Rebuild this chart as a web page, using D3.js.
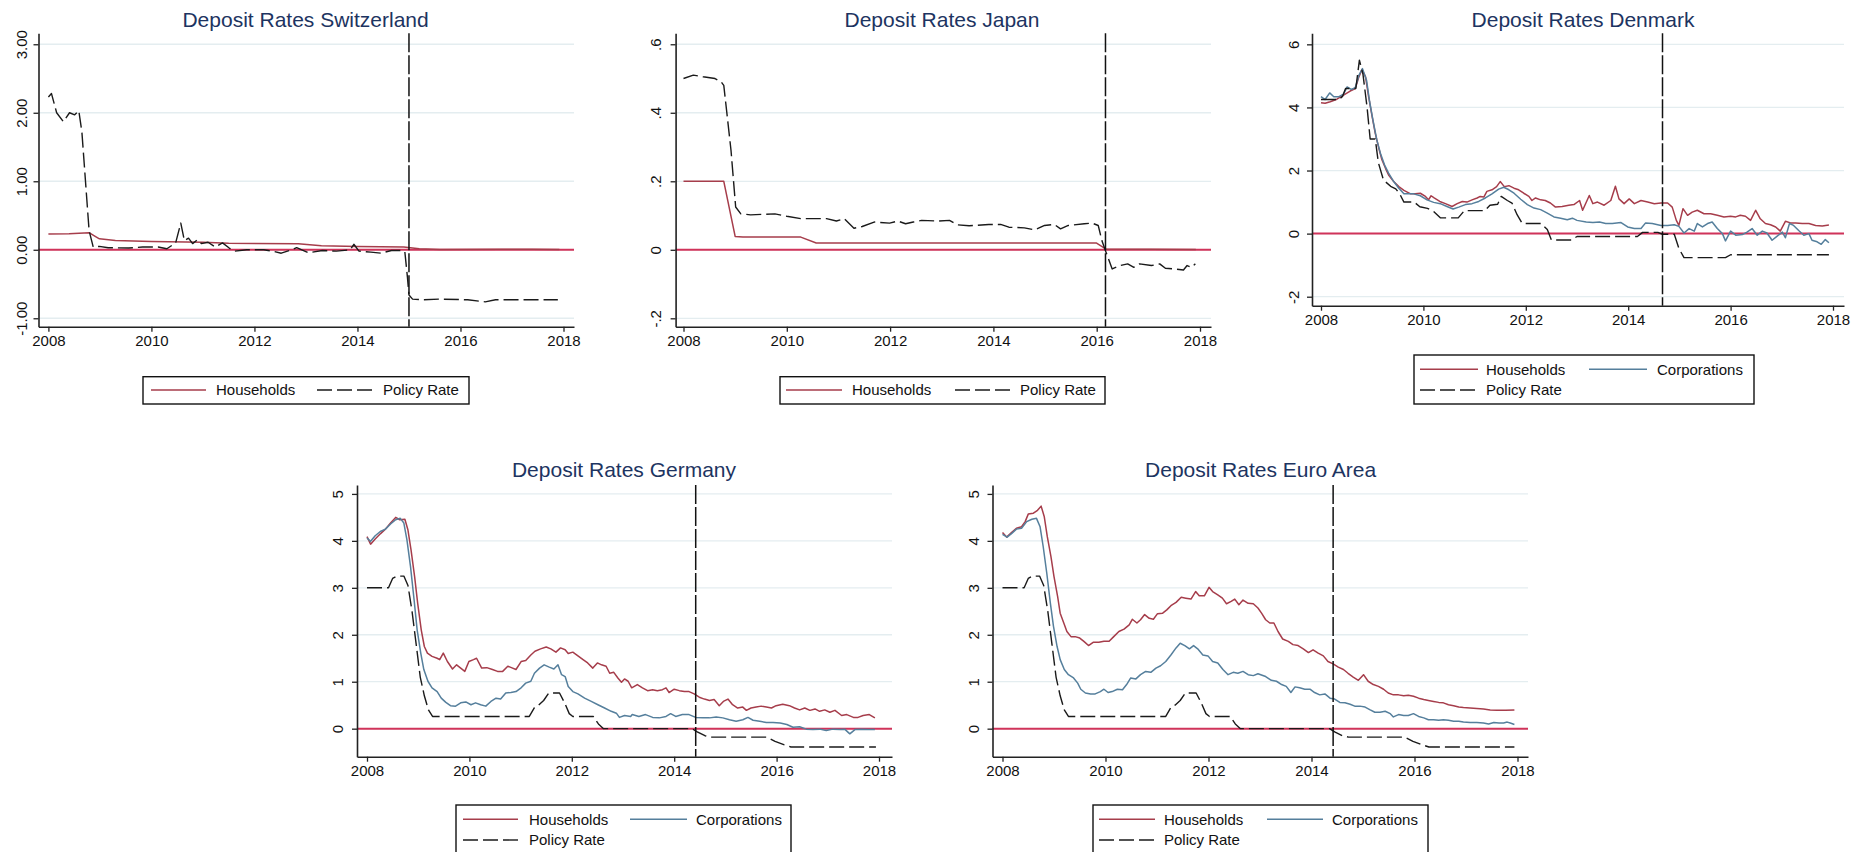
<!DOCTYPE html>
<html><head><meta charset="utf-8">
<script src="https://cdn.jsdelivr.net/npm/d3@7/dist/d3.min.js"></script>
<style>
body{margin:0;background:#fff;}
svg{display:block;font-family:"Liberation Sans",Arial,sans-serif;}
</style></head><body>
<svg id="c" width="1851" height="852"></svg>
<script>
// ---------------- DATA (decimal year, rate in %) ----------------
const yearTicks = [2008, 2010, 2012, 2014, 2016, 2018];

const chYTicks = [-1, 0, 1, 2, 3];
const chYLabels = ["-1.00", "0.00", "1.00", "2.00", "3.00"];
const jpYTicks = [-0.2, 0, 0.2, 0.4, 0.6];
const jpYLabels = ["-.2", "0", ".2", ".4", ".6"];
const dkYTicks = [-2, 0, 2, 4, 6];
const dkYLabels = ["-2", "0", "2", "4", "6"];
const euYTicks = [0, 1, 2, 3, 4, 5];
const euYLabels = ["0", "1", "2", "3", "4", "5"];

const chCutDate = 2015.0, jpCutDate = 2016.17, dkCutDate = 2014.67, deCutDate = 2014.42, eaCutDate = 2014.42;

const chHouseholds = [[2008.0,0.23],[2008.4,0.235],[2008.79,0.25],[2008.9,0.2],[2008.99,0.16],[2009.3,0.135],[2010.0,0.12],[2011.0,0.11],[2011.5,0.097],[2012.85,0.087],[2013.3,0.058],[2014.0,0.048],[2014.9,0.04],[2015.2,0.015],[2015.6,0.005],[2016.8,0.008],[2017.4,0.006],[2017.92,0.003]];
const chPolicy = [[2008.0,2.23],[2008.06,2.28],[2008.16,2.0],[2008.29,1.87],[2008.41,2.0],[2008.51,1.97],[2008.59,2.03],[2008.65,1.72],[2008.79,0.28],[2008.87,0.04],[2008.99,0.05],[2009.16,0.03],[2009.56,0.025],[2009.83,0.04],[2010.13,0.04],[2010.3,0.015],[2010.47,0.1],[2010.57,0.39],[2010.64,0.135],[2010.72,0.17],[2010.8,0.09],[2010.89,0.145],[2010.97,0.09],[2011.1,0.11],[2011.24,0.04],[2011.38,0.1],[2011.51,0.025],[2011.61,-0.02],[2011.85,0.0],[2012.18,0.0],[2012.35,-0.02],[2012.52,-0.05],[2012.72,0.0],[2012.82,0.03],[2013.05,-0.045],[2013.32,-0.01],[2013.59,-0.02],[2013.86,0.0],[2013.93,0.08],[2014.03,-0.02],[2014.26,-0.035],[2014.46,-0.05],[2014.66,-0.01],[2014.87,-0.01],[2014.92,-0.03],[2014.97,-0.4],[2015.0,-0.66],[2015.07,-0.72],[2015.27,-0.73],[2015.6,-0.72],[2016.14,-0.73],[2016.48,-0.76],[2016.68,-0.73],[2017.89,-0.73]];

const jpHouseholds = [[2008.0,0.2],[2008.78,0.2],[2009.0,0.039],[2009.15,0.037],[2010.27,0.037],[2010.57,0.02],[2015.99,0.02],[2016.18,0.002],[2017.92,0.001]];
const jpPolicy = [[2008.0,0.5],[2008.19,0.51],[2008.38,0.505],[2008.61,0.5],[2008.73,0.49],[2008.78,0.48],[2008.92,0.29],[2009.01,0.125],[2009.11,0.105],[2009.3,0.102],[2009.77,0.105],[2010.0,0.098],[2010.27,0.091],[2010.77,0.091],[2010.96,0.084],[2011.11,0.091],[2011.3,0.063],[2011.46,0.068],[2011.69,0.081],[2011.99,0.078],[2012.15,0.084],[2012.3,0.076],[2012.45,0.081],[2012.61,0.086],[2012.92,0.084],[2013.15,0.086],[2013.3,0.073],[2013.53,0.07],[2013.91,0.074],[2014.14,0.074],[2014.3,0.066],[2014.6,0.064],[2014.8,0.058],[2014.99,0.071],[2015.18,0.074],[2015.3,0.061],[2015.45,0.071],[2015.76,0.076],[2015.91,0.078],[2016.03,0.071],[2016.1,0.027],[2016.18,-0.007],[2016.3,-0.056],[2016.45,-0.046],[2016.6,-0.041],[2016.72,-0.051],[2016.83,-0.041],[2017.06,-0.046],[2017.22,-0.041],[2017.33,-0.054],[2017.52,-0.056],[2017.68,-0.059],[2017.75,-0.046],[2017.83,-0.051],[2017.91,-0.041]];

const dkHouseholds = [[2008.0,4.15],[2008.08,4.13],[2008.18,4.18],[2008.31,4.26],[2008.44,4.39],[2008.57,4.52],[2008.67,4.6],[2008.74,4.97],[2008.8,5.2],[2008.87,4.97],[2008.93,4.34],[2009.0,3.7],[2009.06,3.18],[2009.13,2.7],[2009.19,2.34],[2009.26,2.07],[2009.32,1.86],[2009.42,1.65],[2009.52,1.49],[2009.62,1.37],[2009.75,1.26],[2009.84,1.26],[2009.94,1.28],[2010.04,1.18],[2010.1,1.07],[2010.15,1.2],[2010.21,1.13],[2010.32,1.02],[2010.43,0.95],[2010.56,0.86],[2010.66,0.95],[2010.76,1.02],[2010.85,1.0],[2010.95,1.07],[2011.05,1.13],[2011.11,1.18],[2011.18,1.16],[2011.24,1.34],[2011.34,1.39],[2011.43,1.49],[2011.5,1.65],[2011.58,1.49],[2011.67,1.52],[2011.77,1.44],[2011.86,1.39],[2011.96,1.28],[2012.06,1.18],[2012.12,1.05],[2012.19,1.13],[2012.29,1.07],[2012.38,1.05],[2012.48,0.97],[2012.58,0.84],[2012.71,0.86],[2012.84,0.9],[2012.94,0.92],[2013.05,1.05],[2013.11,0.74],[2013.24,1.21],[2013.31,0.95],[2013.4,1.0],[2013.53,0.9],[2013.66,1.05],[2013.75,1.5],[2013.82,1.1],[2013.92,0.95],[2014.02,1.1],[2014.12,0.95],[2014.25,1.05],[2014.38,1.0],[2014.51,0.95],[2014.64,0.97],[2014.77,0.97],[2014.86,0.84],[2014.94,0.42],[2014.99,0.26],[2015.07,0.79],[2015.16,0.58],[2015.25,0.68],[2015.35,0.74],[2015.48,0.63],[2015.61,0.63],[2015.74,0.58],[2015.87,0.53],[2016.0,0.55],[2016.1,0.53],[2016.19,0.58],[2016.29,0.55],[2016.39,0.42],[2016.49,0.74],[2016.58,0.47],[2016.68,0.32],[2016.78,0.28],[2016.88,0.21],[2016.97,0.08],[2017.07,0.39],[2017.17,0.34],[2017.27,0.34],[2017.4,0.32],[2017.53,0.32],[2017.66,0.26],[2017.79,0.24],[2017.92,0.27]];
const dkCorporations = [[2008.0,4.34],[2008.08,4.25],[2008.17,4.46],[2008.25,4.34],[2008.35,4.34],[2008.44,4.42],[2008.51,4.65],[2008.59,4.57],[2008.67,4.63],[2008.74,5.02],[2008.81,5.23],[2008.89,4.86],[2008.95,4.18],[2009.02,3.55],[2009.09,2.97],[2009.16,2.55],[2009.24,2.18],[2009.32,1.92],[2009.42,1.65],[2009.52,1.44],[2009.62,1.26],[2009.71,1.26],[2009.81,1.26],[2009.94,1.2],[2010.07,1.07],[2010.2,0.99],[2010.33,0.95],[2010.46,0.86],[2010.58,0.78],[2010.69,0.84],[2010.82,0.92],[2010.95,0.95],[2011.08,1.02],[2011.21,1.13],[2011.34,1.26],[2011.47,1.41],[2011.57,1.47],[2011.67,1.39],[2011.77,1.28],[2011.9,1.09],[2012.03,0.92],[2012.16,0.81],[2012.29,0.76],[2012.42,0.65],[2012.55,0.53],[2012.68,0.49],[2012.81,0.44],[2012.91,0.49],[2013.0,0.42],[2013.18,0.37],[2013.31,0.35],[2013.44,0.37],[2013.56,0.32],[2013.69,0.32],[2013.86,0.35],[2013.99,0.21],[2014.12,0.16],[2014.25,0.16],[2014.34,0.34],[2014.47,0.32],[2014.64,0.26],[2014.77,0.26],[2014.9,0.28],[2014.99,0.23],[2015.09,0.02],[2015.19,0.16],[2015.29,0.08],[2015.35,0.32],[2015.45,0.21],[2015.55,0.32],[2015.64,0.37],[2015.74,0.16],[2015.84,0.0],[2015.9,-0.23],[2016.0,0.08],[2016.1,-0.05],[2016.23,-0.03],[2016.32,0.05],[2016.42,0.16],[2016.52,-0.05],[2016.62,0.08],[2016.71,0.02],[2016.81,-0.21],[2016.91,-0.08],[2017.01,0.05],[2017.07,-0.13],[2017.15,0.32],[2017.23,0.26],[2017.33,0.1],[2017.43,-0.05],[2017.53,0.0],[2017.59,-0.21],[2017.69,-0.26],[2017.77,-0.34],[2017.85,-0.19],[2017.92,-0.29]];
const dkPolicy = [[2008.0,4.25],[2008.35,4.25],[2008.42,4.35],[2008.48,4.6],[2008.68,4.6],[2008.75,5.5],[2008.82,5.05],[2008.9,4.0],[2008.96,3.0],[2009.06,3.0],[2009.12,2.25],[2009.22,1.7],[2009.36,1.5],[2009.46,1.42],[2009.54,1.25],[2009.62,1.0],[2009.82,1.0],[2009.93,0.85],[2010.08,0.8],[2010.2,0.7],[2010.33,0.5],[2010.68,0.5],[2010.8,0.73],[2011.2,0.73],[2011.3,0.9],[2011.45,0.93],[2011.52,1.18],[2011.64,1.05],[2011.73,0.97],[2011.83,0.6],[2011.93,0.32],[2012.3,0.32],[2012.42,0.13],[2012.5,-0.2],[2012.9,-0.2],[2013.0,-0.09],[2014.18,-0.09],[2014.28,0.04],[2014.58,0.04],[2014.67,-0.02],[2014.9,-0.02],[2014.99,-0.47],[2015.09,-0.76],[2015.9,-0.76],[2016.0,-0.67],[2017.92,-0.67]];

const deHouseholds = [[2008.0,4.09],[2008.07,3.93],[2008.16,4.04],[2008.26,4.15],[2008.36,4.25],[2008.46,4.38],[2008.56,4.5],[2008.64,4.45],[2008.74,4.46],[2008.8,4.23],[2008.86,3.81],[2008.93,3.24],[2008.99,2.67],[2009.06,2.1],[2009.12,1.75],[2009.18,1.61],[2009.27,1.54],[2009.37,1.5],[2009.42,1.47],[2009.49,1.61],[2009.57,1.43],[2009.67,1.27],[2009.75,1.36],[2009.83,1.29],[2009.91,1.22],[2009.99,1.43],[2010.08,1.47],[2010.14,1.5],[2010.24,1.29],[2010.34,1.3],[2010.45,1.26],[2010.55,1.22],[2010.65,1.22],[2010.75,1.33],[2010.82,1.3],[2010.91,1.26],[2011.01,1.43],[2011.1,1.45],[2011.2,1.57],[2011.28,1.65],[2011.39,1.7],[2011.5,1.74],[2011.59,1.7],[2011.69,1.63],[2011.78,1.72],[2011.87,1.68],[2011.93,1.6],[2012.02,1.63],[2012.12,1.55],[2012.22,1.47],[2012.31,1.4],[2012.41,1.29],[2012.5,1.4],[2012.58,1.36],[2012.67,1.33],[2012.74,1.18],[2012.82,1.2],[2012.9,1.08],[2012.97,0.99],[2013.03,1.06],[2013.1,1.01],[2013.17,0.87],[2013.28,0.94],[2013.38,0.87],[2013.48,0.81],[2013.58,0.83],[2013.67,0.81],[2013.77,0.83],[2013.84,0.87],[2013.9,0.77],[2014.0,0.84],[2014.1,0.81],[2014.2,0.79],[2014.29,0.79],[2014.39,0.74],[2014.49,0.67],[2014.59,0.63],[2014.69,0.6],[2014.78,0.62],[2014.88,0.49],[2014.96,0.58],[2015.05,0.63],[2015.14,0.51],[2015.24,0.44],[2015.34,0.46],[2015.41,0.39],[2015.5,0.44],[2015.6,0.46],[2015.7,0.48],[2015.8,0.46],[2015.9,0.44],[2015.99,0.49],[2016.12,0.52],[2016.25,0.49],[2016.35,0.44],[2016.45,0.4],[2016.55,0.44],[2016.65,0.39],[2016.75,0.42],[2016.84,0.37],[2016.94,0.4],[2017.04,0.35],[2017.14,0.39],[2017.27,0.28],[2017.37,0.3],[2017.5,0.24],[2017.59,0.24],[2017.69,0.28],[2017.81,0.3],[2017.92,0.23]];
const deCorporations = [[2008.0,4.06],[2008.07,3.99],[2008.16,4.11],[2008.26,4.2],[2008.36,4.25],[2008.46,4.36],[2008.56,4.45],[2008.65,4.48],[2008.72,4.38],[2008.78,4.02],[2008.85,3.45],[2008.92,2.74],[2008.98,2.1],[2009.05,1.61],[2009.11,1.26],[2009.19,1.01],[2009.27,0.87],[2009.37,0.79],[2009.45,0.65],[2009.54,0.56],[2009.63,0.49],[2009.73,0.48],[2009.83,0.55],[2009.93,0.57],[2010.03,0.51],[2010.12,0.55],[2010.22,0.51],[2010.32,0.48],[2010.42,0.58],[2010.52,0.65],[2010.61,0.63],[2010.71,0.76],[2010.81,0.77],[2010.91,0.79],[2011.01,0.87],[2011.1,0.97],[2011.2,1.01],[2011.27,1.18],[2011.37,1.29],[2011.46,1.36],[2011.56,1.31],[2011.65,1.27],[2011.73,1.36],[2011.8,1.15],[2011.87,1.11],[2011.93,0.9],[2012.02,0.79],[2012.12,0.74],[2012.25,0.65],[2012.38,0.58],[2012.51,0.51],[2012.64,0.44],[2012.77,0.37],[2012.87,0.33],[2012.93,0.24],[2013.03,0.28],[2013.15,0.26],[2013.18,0.3],[2013.31,0.26],[2013.44,0.3],[2013.58,0.24],[2013.71,0.23],[2013.84,0.26],[2013.93,0.32],[2014.03,0.26],[2014.16,0.3],[2014.29,0.3],[2014.42,0.24],[2014.56,0.23],[2014.69,0.23],[2014.82,0.25],[2014.95,0.23],[2015.08,0.19],[2015.21,0.16],[2015.34,0.19],[2015.44,0.24],[2015.54,0.18],[2015.67,0.16],[2015.8,0.13],[2015.93,0.13],[2016.07,0.12],[2016.2,0.09],[2016.32,0.03],[2016.45,0.04],[2016.58,-0.01],[2016.71,-0.02],[2016.84,-0.01],[2016.97,-0.04],[2017.1,-0.01],[2017.24,-0.02],[2017.33,-0.01],[2017.43,-0.11],[2017.53,-0.02],[2017.66,-0.01],[2017.79,-0.02],[2017.92,-0.02]];
const ecbPolicy = [[2008.0,3.0],[2008.42,3.0],[2008.5,3.2],[2008.58,3.25],[2008.72,3.25],[2008.8,3.05],[2008.88,2.5],[2008.96,1.8],[2009.04,1.1],[2009.12,0.7],[2009.2,0.4],[2009.28,0.26],[2011.17,0.26],[2011.27,0.45],[2011.35,0.5],[2011.45,0.6],[2011.55,0.76],[2011.76,0.76],[2011.86,0.55],[2011.95,0.32],[2012.02,0.26],[2012.42,0.26],[2012.52,0.1],[2012.62,0.0],[2014.35,0.0],[2014.45,-0.07],[2014.6,-0.15],[2014.72,-0.18],[2015.81,-0.18],[2015.97,-0.27],[2016.14,-0.34],[2016.28,-0.39],[2017.94,-0.39]];

const eaHouseholds = [[2008.0,4.18],[2008.08,4.08],[2008.18,4.18],[2008.27,4.27],[2008.37,4.3],[2008.44,4.41],[2008.5,4.57],[2008.6,4.59],[2008.68,4.65],[2008.75,4.74],[2008.81,4.52],[2008.87,4.09],[2008.94,3.67],[2009.0,3.24],[2009.07,2.82],[2009.12,2.46],[2009.19,2.25],[2009.25,2.07],[2009.33,1.96],[2009.41,1.96],[2009.5,1.93],[2009.58,1.86],[2009.67,1.77],[2009.76,1.84],[2009.87,1.84],[2009.97,1.86],[2010.07,1.86],[2010.16,1.96],[2010.26,2.07],[2010.36,2.12],[2010.46,2.21],[2010.52,2.33],[2010.61,2.25],[2010.68,2.32],[2010.76,2.43],[2010.85,2.35],[2010.93,2.33],[2011.01,2.45],[2011.11,2.46],[2011.19,2.53],[2011.27,2.62],[2011.37,2.69],[2011.47,2.8],[2011.56,2.78],[2011.66,2.76],[2011.75,2.92],[2011.82,2.83],[2011.92,2.83],[2012.01,3.01],[2012.08,2.92],[2012.18,2.85],[2012.27,2.78],[2012.35,2.66],[2012.44,2.71],[2012.51,2.76],[2012.59,2.64],[2012.67,2.74],[2012.77,2.67],[2012.87,2.66],[2012.96,2.57],[2013.03,2.46],[2013.11,2.32],[2013.19,2.25],[2013.27,2.25],[2013.35,2.07],[2013.44,1.91],[2013.55,1.86],[2013.64,1.79],[2013.74,1.77],[2013.84,1.7],[2013.94,1.62],[2014.03,1.68],[2014.13,1.61],[2014.23,1.55],[2014.32,1.43],[2014.42,1.38],[2014.52,1.31],[2014.62,1.26],[2014.71,1.18],[2014.81,1.1],[2014.91,1.03],[2015.01,1.15],[2015.1,1.01],[2015.2,0.94],[2015.3,0.9],[2015.4,0.84],[2015.49,0.76],[2015.59,0.72],[2015.69,0.72],[2015.79,0.7],[2015.88,0.71],[2015.98,0.69],[2016.08,0.65],[2016.18,0.62],[2016.27,0.6],[2016.37,0.58],[2016.47,0.56],[2016.56,0.55],[2016.66,0.51],[2016.76,0.49],[2016.86,0.46],[2016.95,0.45],[2017.08,0.44],[2017.21,0.43],[2017.34,0.42],[2017.47,0.4],[2017.6,0.39],[2017.77,0.39],[2017.94,0.4]];
const eaCorporations = [[2008.0,4.14],[2008.09,4.08],[2008.18,4.16],[2008.27,4.25],[2008.37,4.27],[2008.47,4.41],[2008.57,4.46],[2008.66,4.48],[2008.73,4.3],[2008.79,3.88],[2008.86,3.31],[2008.93,2.67],[2008.99,2.18],[2009.06,1.75],[2009.12,1.47],[2009.2,1.26],[2009.28,1.15],[2009.38,1.08],[2009.46,0.97],[2009.52,0.84],[2009.61,0.76],[2009.71,0.74],[2009.8,0.74],[2009.9,0.79],[2009.97,0.84],[2010.05,0.77],[2010.13,0.79],[2010.23,0.84],[2010.33,0.83],[2010.41,0.94],[2010.49,1.08],[2010.59,1.06],[2010.68,1.15],[2010.78,1.22],[2010.88,1.2],[2010.98,1.29],[2011.07,1.34],[2011.17,1.43],[2011.27,1.57],[2011.37,1.72],[2011.45,1.82],[2011.54,1.77],[2011.63,1.7],[2011.71,1.77],[2011.79,1.7],[2011.89,1.57],[2011.99,1.55],[2012.08,1.43],[2012.18,1.4],[2012.28,1.26],[2012.38,1.15],[2012.48,1.2],[2012.57,1.18],[2012.67,1.22],[2012.77,1.15],[2012.87,1.13],[2012.96,1.17],[2013.11,1.11],[2013.22,1.03],[2013.32,1.01],[2013.42,0.94],[2013.51,0.9],[2013.6,0.77],[2013.68,0.89],[2013.77,0.87],[2013.87,0.84],[2013.97,0.84],[2014.06,0.77],[2014.16,0.72],[2014.26,0.74],[2014.36,0.65],[2014.45,0.63],[2014.55,0.56],[2014.65,0.55],[2014.75,0.52],[2014.84,0.48],[2014.94,0.48],[2015.04,0.46],[2015.14,0.4],[2015.23,0.35],[2015.33,0.35],[2015.43,0.37],[2015.53,0.32],[2015.59,0.25],[2015.69,0.3],[2015.79,0.28],[2015.88,0.28],[2015.98,0.32],[2016.08,0.26],[2016.18,0.23],[2016.27,0.19],[2016.37,0.19],[2016.47,0.18],[2016.56,0.19],[2016.66,0.18],[2016.76,0.16],[2016.86,0.16],[2016.95,0.14],[2017.08,0.13],[2017.21,0.13],[2017.34,0.12],[2017.44,0.1],[2017.54,0.13],[2017.64,0.12],[2017.73,0.12],[2017.8,0.14],[2017.86,0.12],[2017.94,0.09]];

// ---------------- STYLE / LAYOUT ----------------
const C = {
  hh: "#a63d4b", corp: "#557f9c", pol: "#1a1a1a", zero: "#d0335a",
  grid: "#e4edf0", title: "#1d3461", axis: "#222", text: "#111"
};
const panels = [
  { title: "Deposit Rates Switzerland", yTicks: chYTicks, yLabels: chYLabels, cut: chCutDate,
    series: [["hh", chHouseholds], ["pol", chPolicy]],
    L: { left: 38.5, right: 574, x08: 48.4, x18: 563.5, top: 33.3, bottom: 326.7, yDom: [-1.123, 3.16],
         titleX: 305.6, titleY: 26.8, ylab: 17,
         box: [143, 376.7, 326, 27.3],
         items: [["hh", "Households", 151, 206, 216, 390], ["pol", "Policy Rate", 317, 373, 383, 390]] } },
  { title: "Deposit Rates Japan", yTicks: jpYTicks, yLabels: jpYLabels, cut: jpCutDate,
    series: [["hh", jpHouseholds], ["pol", jpPolicy]],
    L: { left: 675.6, right: 1211, x08: 683.5, x18: 1200, top: 33.3, bottom: 326.7, yDom: [-0.2245, 0.632],
         titleX: 942, titleY: 26.8, ylab: 19.5,
         box: [780, 376.7, 325, 27.3],
         items: [["hh", "Households", 786, 842, 852, 390], ["pol", "Policy Rate", 955, 1011, 1020, 390]] } },
  { title: "Deposit Rates Denmark", yTicks: dkYTicks, yLabels: dkYLabels, cut: dkCutDate,
    series: [["hh", dkHouseholds], ["corp", dkCorporations], ["pol", dkPolicy]],
    L: { left: 1312, right: 1844, x08: 1321, x18: 1833, top: 33.3, bottom: 305.7, yDom: [-2.285, 6.35],
         titleX: 1583, titleY: 26.8, ylab: 18.4,
         box: [1414, 355, 340, 49],
         items: [["hh", "Households", 1420, 1478, 1486, 369.3], ["corp", "Corporations", 1589, 1647, 1657, 369.3],
                 ["pol", "Policy Rate", 1420, 1478, 1486, 390]] } },
  { title: "Deposit Rates Germany", yTicks: euYTicks, yLabels: euYLabels, cut: deCutDate,
    series: [["hh", deHouseholds], ["corp", deCorporations], ["pol", ecbPolicy]],
    L: { left: 357, right: 892, x08: 367, x18: 879, top: 485, bottom: 756.7, yDom: [-0.597, 5.19],
         titleX: 624, titleY: 476.5, ylab: 19.3,
         box: [456, 805, 335, 60],
         items: [["hh", "Households", 463, 518, 529, 819.3], ["corp", "Corporations", 630, 687, 696, 819.3],
                 ["pol", "Policy Rate", 463, 518, 529, 840]] } },
  { title: "Deposit Rates Euro Area", yTicks: euYTicks, yLabels: euYLabels, cut: eaCutDate,
    series: [["hh", eaHouseholds], ["corp", eaCorporations], ["pol", ecbPolicy]],
    L: { left: 992.5, right: 1528, x08: 1002.5, x18: 1517.5, top: 485, bottom: 756.7, yDom: [-0.597, 5.19],
         titleX: 1260.6, titleY: 476.5, ylab: 18.9,
         box: [1093, 805, 335, 60],
         items: [["hh", "Households", 1099, 1155, 1164, 819.3], ["corp", "Corporations", 1267, 1323, 1332, 819.3],
                 ["pol", "Policy Rate", 1099, 1155, 1164, 840]] } }
];

function styleLine(sel, type) {
  sel.attr("fill", "none").attr("stroke", C[type])
     .attr("stroke-width", type === "pol" ? 1.4 : 1.5)
     .attr("stroke-linejoin", "round");
  if (type === "pol") sel.attr("stroke-dasharray", "15,5");
}

const svg = d3.select("#c");
svg.append("rect").attr("width", 1851).attr("height", 852).attr("fill", "#fff");

panels.forEach(p => {
  const L = p.L;
  const x0 = d3.scaleLinear().domain([2008, 2018]).range([L.x08, L.x18]);
  const x = d3.scaleLinear().domain([x0.invert(L.left), x0.invert(L.right)]).range([L.left, L.right]);
  const y = d3.scaleLinear().domain(L.yDom).range([L.bottom, L.top]);
  const g = svg.append("g");

  // gridlines
  g.append("g").selectAll("line").data(p.yTicks).join("line")
    .attr("x1", L.left).attr("x2", L.right)
    .attr("y1", d => y(d)).attr("y2", d => y(d))
    .attr("stroke", C.grid).attr("stroke-width", 1.3);

  // zero line
  g.append("line").attr("x1", L.left).attr("x2", L.right)
    .attr("y1", y(0)).attr("y2", y(0))
    .attr("stroke", C.zero).attr("stroke-width", 2);

  // series
  const line = d3.line().x(d => x(d[0])).y(d => y(d[1]));
  p.series.forEach(([type, data]) => {
    g.append("path").datum(data).attr("d", line).call(styleLine, type);
  });

  // policy change vertical line
  g.append("line").attr("x1", x(p.cut)).attr("x2", x(p.cut))
    .attr("y1", L.top).attr("y2", L.bottom)
    .attr("stroke", "#111").attr("stroke-width", 1.5).attr("stroke-dasharray", "19,3");

  // x axis
  const ax = g.append("g").attr("transform", `translate(0,${L.bottom})`)
    .call(d3.axisBottom(x).tickValues(yearTicks).tickFormat(d3.format("d"))
      .tickSize(5).tickSizeOuter(0).tickPadding(4));
  // y axis
  const ay = g.append("g").attr("transform", `translate(${L.left},0)`)
    .call(d3.axisLeft(y).tickValues(p.yTicks).tickFormat((d, i) => p.yLabels[i])
      .tickSize(5).tickSizeOuter(0));
  [ax, ay].forEach(a => {
    a.select(".domain").attr("stroke", C.axis).attr("stroke-width", 1.6);
    a.selectAll(".tick line").attr("stroke", C.axis).attr("stroke-width", 1.3);
    a.selectAll("text").attr("fill", C.text).style("font-size", "15px")
      .style("font-family", '"Liberation Sans", Arial, sans-serif');
  });
  ay.selectAll(".tick text")
    .attr("x", null).attr("dy", "0.35em")
    .attr("transform", `translate(${-L.ylab},0) rotate(-90)`)
    .attr("text-anchor", "middle");

  // title
  g.append("text").attr("x", L.titleX).attr("y", L.titleY).attr("text-anchor", "middle")
    .attr("fill", C.title).style("font-size", "21px").text(p.title);

  // legend
  const [bx, by, bw, bh] = L.box;
  g.append("rect").attr("x", bx).attr("y", by).attr("width", bw).attr("height", bh)
    .attr("fill", "#fff").attr("stroke", "#111").attr("stroke-width", 1.4);
  L.items.forEach(([type, label, x1, x2, tx, ty]) => {
    g.append("line").attr("x1", x1).attr("x2", x2).attr("y1", ty).attr("y2", ty).call(styleLine, type);
    g.append("text").attr("x", tx).attr("y", ty + 5.3).attr("fill", C.text)
      .style("font-size", "15px").text(label);
  });
});
</script>
</body></html>
